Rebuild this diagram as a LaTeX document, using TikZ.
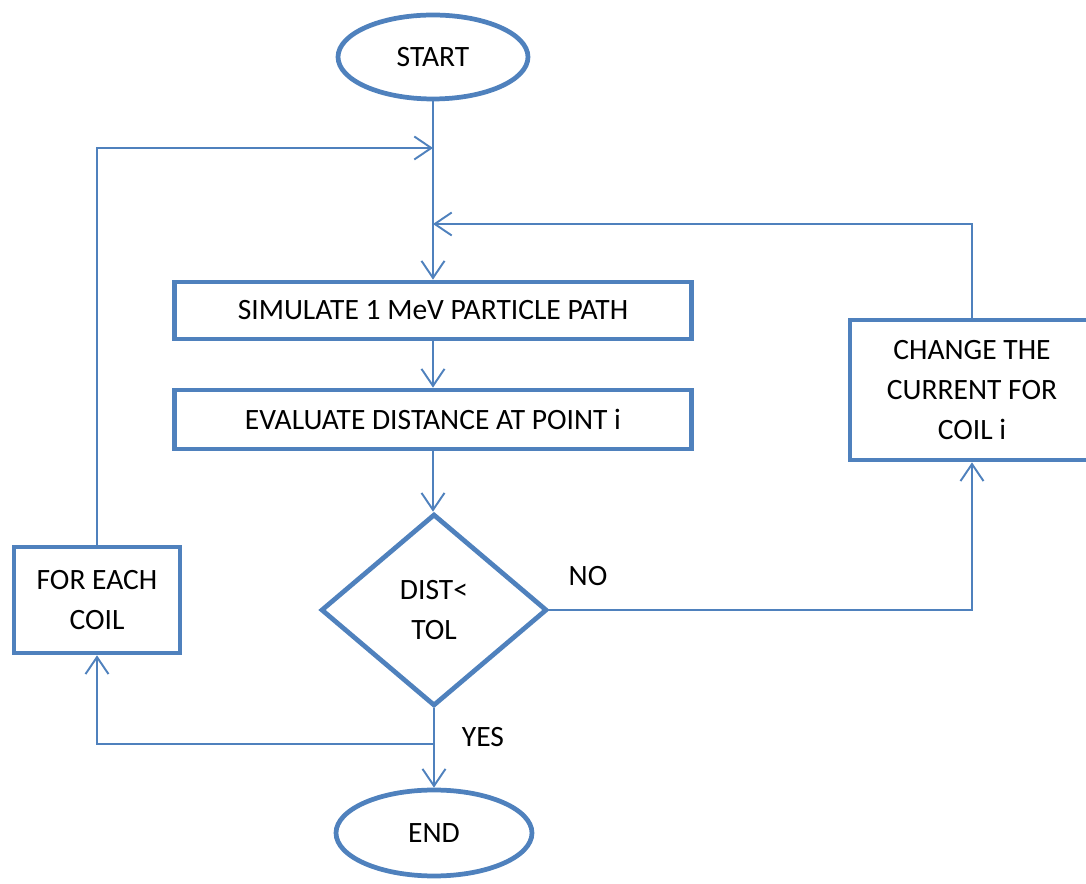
\documentclass[tikz,border=0pt]{standalone}
\usepackage{fontspec}
\setmainfont{Carlito}
\definecolor{fcblue}{RGB}{79,129,189}
\usetikzlibrary{arrows.meta,positioning,shapes.geometric,calc}

\begin{document}
\begin{tikzpicture}[x=0.02cm, y=-0.02cm,
  every node/.style={font=\fontsize{16.8}{23}\selectfont},
  term/.style={ellipse, draw=fcblue, line width=2.7pt, inner sep=0pt},
  procbox/.style={rectangle, draw=fcblue, line width=2.7pt, align=center, inner sep=0pt},
  decbox/.style={diamond, draw=fcblue, line width=2.7pt, align=center, inner sep=0pt},
  flow/.style={draw=fcblue, line width=1.1pt},
  flowarr/.style={flow, -{Straight Barb[length=0.34cm, width=0.46cm, line width=1.1pt]}}]
\useasboundingbox (0,0) rectangle (1086,884);

% Terminals
\node[term, minimum width=3.8cm, minimum height=1.68cm] (start) at (433,57) {START};
\node[term, minimum width=3.92cm, minimum height=1.72cm] (end) at (434,833) {END};

% Process boxes
\node[procbox, minimum width=10.34cm, minimum height=1.14cm] (sim) at (433,310.5)
  {SIMULATE 1 MeV PARTICLE PATH};
\node[procbox, minimum width=10.34cm, minimum height=1.18cm] (eval) at (433,419.5)
  {EVALUATE DISTANCE AT POINT i};
\node[procbox, minimum width=4.88cm, minimum height=2.8cm] (change) at (972,390)
  {CHANGE THE\\CURRENT FOR\\COIL i};
\node[procbox, minimum width=3.32cm, minimum height=2.12cm] (each) at (97,600)
  {FOR EACH\\COIL};

% Decision
\node[decbox, minimum width=4.52cm, minimum height=3.84cm] (dec) at (434,610)
  {DIST<\\TOL};

% Labels
\node (no) at (588,576) {NO};
\node (yes) at (483,737) {YES};

% Junctions on the main line
\coordinate (j1) at (433,148);
\coordinate (j2) at (433,224);
\coordinate (j3) at (434,744);

% Main flow
\draw[flowarr] (start.south) -- (sim.north);
\draw[flowarr] (sim.south) -- (eval.north);
\draw[flowarr] (eval.south) -- (eval.south |- dec.north);
\draw[flowarr] (dec.south) -- (end.north);

% Loops
\draw[flowarr] (each.north) |- (j1);
\draw[flowarr] (change.north) |- (j2);
\draw[flowarr] (dec.east) -| (change.south);
\draw[flowarr] (j3) -| (each.south);

\end{tikzpicture}
\end{document}
